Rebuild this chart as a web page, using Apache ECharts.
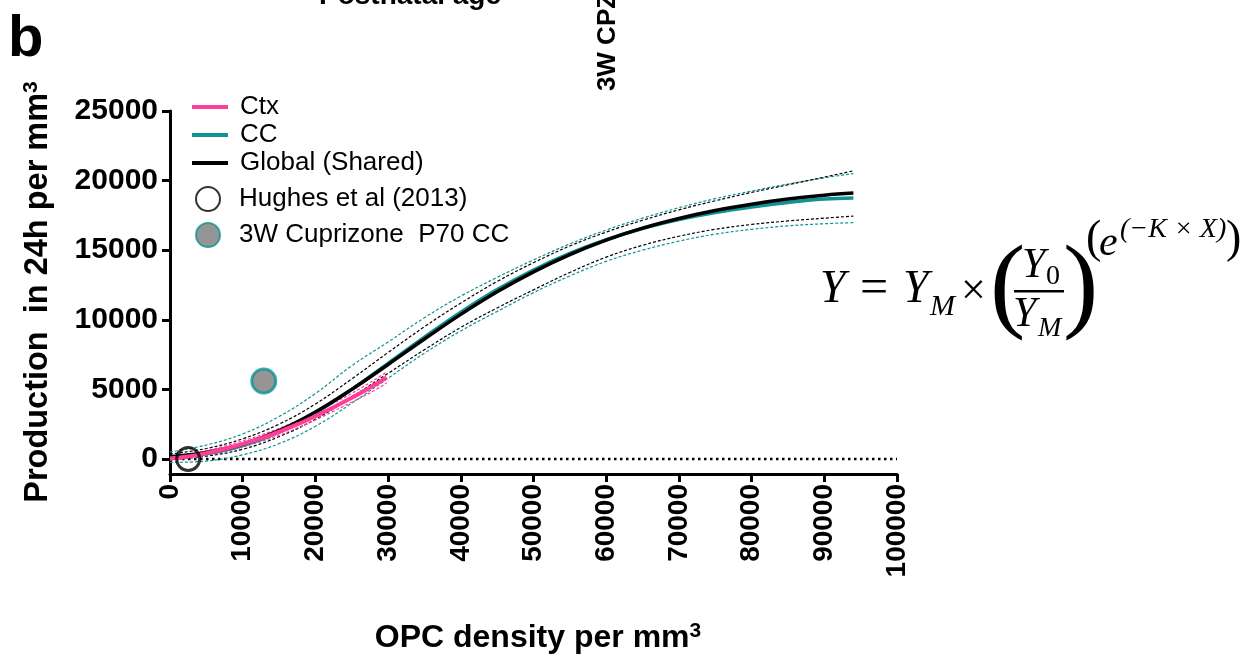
<!DOCTYPE html>
<html>
<head>
<meta charset="utf-8">
<script src="https://cdn.jsdelivr.net/npm/echarts@6/dist/echarts.min.js"></script>
<style>
html,body{margin:0;padding:0;background:#fff;}
#chart{width:1254px;height:659px;}
</style>
</head>
<body>
<div id="chart"></div>
<script>
// ---- data ----
const fitX = [0, 5000, 10000, 15000, 20000, 25000, 30000, 35000, 40000, 45000, 50000, 55000, 60000, 65000, 70000, 75000, 80000, 85000, 90000, 94000];
const globalY = [160, 460, 1060, 2030, 3370, 5000, 6790, 8620, 10390, 12010, 13440, 14680, 15720, 16580, 17280, 17850, 18300, 18670, 18950, 19100];
const globalUpper = [350, 750, 1450, 2500, 3950, 5750, 7650, 9500, 11200, 12750, 14100, 15300, 16300, 17150, 17900, 18550, 19150, 19700, 20250, 20700];
const globalLower = [-50, 200, 700, 1600, 2850, 4450, 6150, 7850, 9450, 10850, 12150, 13400, 14500, 15350, 16000, 16500, 16850, 17100, 17300, 17450];
const ccY = [120, 380, 960, 1930, 3310, 5000, 6870, 8750, 10550, 12170, 13580, 14770, 15760, 16560, 17200, 17710, 18110, 18430, 18670, 18750];
const ccUpper = [500, 1000, 1800, 3050, 4700, 6700, 8400, 10150, 11700, 13050, 14300, 15450, 16450, 17300, 18050, 18700, 19250, 19750, 20200, 20500];
const ccLower = [-250, -150, 300, 1100, 2350, 4000, 5800, 7600, 9200, 10600, 11950, 13150, 14200, 15000, 15650, 16150, 16500, 16750, 16900, 16980];
const ctxX = [0, 2500, 5000, 7500, 10000, 12500, 15000, 17500, 20000, 22500, 25000, 27500, 29800];
const ctxY = [30, 180, 420, 720, 1080, 1480, 1950, 2480, 3080, 3720, 4400, 5120, 5850];
const ctxUpper = [150, 330, 600, 920, 1300, 1720, 2200, 2750, 3350, 4000, 4720, 5480, 6250];
const ctxLower = [-80, 40, 250, 530, 870, 1250, 1700, 2220, 2800, 3430, 4080, 4750, 5450];
const hughesPoint = [[2500, 0]];
const cuprizonePoint = [[12900, 5600]];
const zeroLine = [[0, 0], [100000, 0]];
const yTicks = [0, 5000, 10000, 15000, 20000, 25000];

const seriesNames = ['Ctx', 'CC', 'Global (Shared)', 'Hughes et al (2013)', '3W Cuprizone  P70 CC'];

const PINK = '#ff3f97';
const TEAL = '#0f9393';
const BLACK = '#000000';
const SANS = '"Liberation Sans", Arial, Helvetica, sans-serif';
const SERIF = '"Liberation Serif", "DejaVu Serif", serif';

function zip(xs, ys) { return xs.map((x, i) => [x, ys[i]]); }

function band(name, xs, ys, color) {
  return {
    name: name, type: 'line', data: zip(xs, ys), smooth: 0.4, symbol: 'none',
    lineStyle: { color: color, width: 1.2, type: [3, 2] }, silent: true, z: 2
  };
}

const chart = echarts.init(document.getElementById('chart'), null, { renderer: 'canvas' });

const option = {
  animation: false,
  backgroundColor: '#ffffff',
  grid: { left: 170, right: 357, top: 111, bottom: 185, containLabel: false },
  xAxis: {
    type: 'value', min: 0, max: 100000, interval: 10000,
    axisLine: { show: true, onZero: false, lineStyle: { color: BLACK, width: 3 } },
    axisTick: { show: true, length: 8, lineStyle: { color: BLACK, width: 3 } },
    axisLabel: { rotate: 90, margin: 10, color: BLACK, fontFamily: SANS, fontWeight: 'bold', fontSize: 28,
      formatter: v => String(v) },
    splitLine: { show: false }
  },
  yAxis: {
    type: 'value', min: -1080, max: 25000,
    axisLine: { show: true, onZero: false, lineStyle: { color: BLACK, width: 3 } },
    axisTick: { show: true, length: 8, customValues: yTicks, lineStyle: { color: BLACK, width: 3 } },
    axisLabel: { customValues: yTicks, margin: 12, color: BLACK, fontFamily: SANS, fontWeight: 'bold', fontSize: 30,
      formatter: v => String(v) },
    splitLine: { show: false }
  },
  legend: [
    {
      data: [{ name: seriesNames[0], icon: 'rect' }, { name: seriesNames[1], icon: 'rect' }, { name: seriesNames[2], icon: 'rect' }],
      orient: 'vertical', left: 187, top: 89, itemGap: 2, itemWidth: 36, itemHeight: 4,
      textStyle: { color: BLACK, fontFamily: SANS, fontSize: 26, lineHeight: 26, padding: [0, 0, 0, 7] },
      selectedMode: false
    },
    {
      data: [seriesNames[3], seriesNames[4]],
      orient: 'vertical', left: 190, top: 181, itemGap: 10, itemWidth: 24, itemHeight: 24,
      textStyle: { color: BLACK, fontFamily: SANS, fontSize: 26, lineHeight: 26, padding: [0, 0, 0, 14] },
      selectedMode: false
    }
  ],
  series: [
    { name: 'zero', type: 'line', data: zeroLine, symbol: 'none', silent: true,
      lineStyle: { color: BLACK, width: 2.5, type: [2.5, 3.5] }, z: 1 },
    band('ccU', fitX, ccUpper, TEAL),
    band('ccL', fitX, ccLower, TEAL),
    band('gU', fitX, globalUpper, BLACK),
    band('gL', fitX, globalLower, BLACK),
    band('ctxU', ctxX, ctxUpper, PINK),
    band('ctxL', ctxX, ctxLower, PINK),
    { name: seriesNames[1], type: 'line', data: zip(fitX, ccY), smooth: 0.4, symbol: 'none',
      lineStyle: { color: TEAL, width: 3.5 }, itemStyle: { color: TEAL }, z: 3 },
    { name: seriesNames[2], type: 'line', data: zip(fitX, globalY), smooth: 0.4, symbol: 'none',
      lineStyle: { color: BLACK, width: 3.5 }, itemStyle: { color: BLACK }, z: 4 },
    { name: seriesNames[0], type: 'line', data: zip(ctxX, ctxY), smooth: 0.4, symbol: 'none',
      lineStyle: { color: PINK, width: 4 }, itemStyle: { color: PINK }, z: 5 },
    { name: seriesNames[3], type: 'scatter', data: hughesPoint, symbol: 'circle', symbolSize: 23,
      itemStyle: { color: 'rgba(255,255,255,0)', borderColor: BLACK, borderWidth: 3 }, z: 6 },
    { name: seriesNames[4], type: 'scatter', data: cuprizonePoint, symbol: 'circle', symbolSize: 24,
      itemStyle: { color: '#7b7b7b', borderColor: TEAL, borderWidth: 3 }, z: 6 }
  ],
  graphic: [
    // panel letter and clipped fragments of neighbouring panels
    { type: 'text', left: 8, top: 11, style: { text: 'b', fill: BLACK, font: 'bold 58px ' + SANS } },
    { type: 'text', x: 410, y: -4, style: { text: 'Postnatal age', fill: BLACK, font: 'bold 28px ' + SANS, align: 'center', verticalAlign: 'middle' } },
    { type: 'text', x: 608, y: 42, rotation: Math.PI / 2, style: { text: '3W CPZ', fill: BLACK, font: 'bold 26px ' + SANS, align: 'center', verticalAlign: 'middle' } },
    // axis titles
    { type: 'text', x: 38, y: 292, rotation: Math.PI / 2,
      style: { text: 'Production  in 24h per mm{s|3}', fill: BLACK, font: 'bold 32.5px ' + SANS, align: 'center', verticalAlign: 'middle',
        rich: { s: { fontSize: 21, fontWeight: 'bold', fontFamily: SANS, padding: [0, 0, 14, 0] } } } },
    { type: 'text', x: 538, y: 638,
      style: { text: 'OPC density per mm{s|3}', fill: BLACK, font: 'bold 32px ' + SANS, align: 'center', verticalAlign: 'middle',
        rich: { s: { fontSize: 21, fontWeight: 'bold', fontFamily: SANS, padding: [0, 0, 14, 0] } } } },
    // Gompertz equation
    { type: 'group', x: 0, y: 0, children: [
      { type: 'text', x: 820, y: 290, style: { text: 'Y', fill: BLACK, font: 'italic 46px ' + SERIF, verticalAlign: 'middle' } },
      { type: 'text', x: 860, y: 290, style: { text: '=', fill: BLACK, font: '50px ' + SERIF, verticalAlign: 'middle' } },
      { type: 'text', x: 903, y: 290, style: { text: 'Y', fill: BLACK, font: 'italic 46px ' + SERIF, verticalAlign: 'middle' } },
      { type: 'text', x: 930, y: 307, style: { text: 'M', fill: BLACK, font: 'italic 30px ' + SERIF, verticalAlign: 'middle' } },
      { type: 'text', x: 961, y: 292, style: { text: '\u00d7', fill: BLACK, font: '44px ' + SERIF, verticalAlign: 'middle' } },
      { type: 'text', x: 990, y: 290, style: { text: '(', fill: BLACK, font: '106px ' + SERIF, verticalAlign: 'middle' } },
      { type: 'text', x: 1022, y: 266, style: { text: 'Y', fill: BLACK, font: 'italic 42px ' + SERIF, verticalAlign: 'middle' } },
      { type: 'text', x: 1046, y: 277, style: { text: '0', fill: BLACK, font: '28px ' + SERIF, verticalAlign: 'middle' } },
      { type: 'rect', shape: { x: 1014, y: 290, width: 50, height: 2.5 }, style: { fill: BLACK } },
      { type: 'text', x: 1013, y: 315, style: { text: 'Y', fill: BLACK, font: 'italic 42px ' + SERIF, verticalAlign: 'middle' } },
      { type: 'text', x: 1038, y: 329, style: { text: 'M', fill: BLACK, font: 'italic 28px ' + SERIF, verticalAlign: 'middle' } },
      { type: 'text', x: 1063, y: 290, style: { text: ')', fill: BLACK, font: '106px ' + SERIF, verticalAlign: 'middle' } },
      { type: 'text', x: 1086, y: 240, style: { text: '(', fill: BLACK, font: '46px ' + SERIF, verticalAlign: 'middle' } },
      { type: 'text', x: 1099, y: 244, style: { text: 'e', fill: BLACK, font: 'italic 42px ' + SERIF, verticalAlign: 'middle' } },
      { type: 'text', x: 1120, y: 230, style: { text: '(\u2212K \u00d7 X)', fill: BLACK, font: 'italic 28px ' + SERIF, verticalAlign: 'middle' } },
      { type: 'text', x: 1226, y: 240, style: { text: ')', fill: BLACK, font: '46px ' + SERIF, verticalAlign: 'middle' } }
    ] }
  ]
};

chart.setOption(option);
</script>
</body>
</html>
